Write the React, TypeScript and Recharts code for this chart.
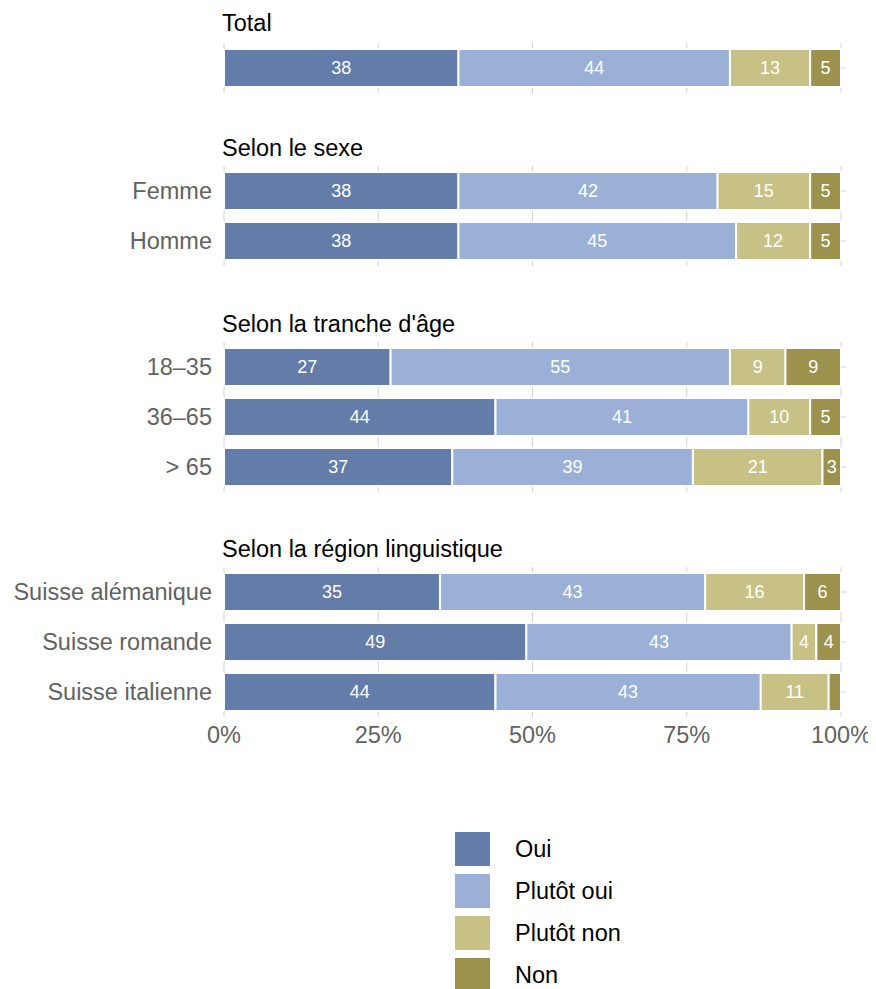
import { Bar, BarChart, CartesianGrid, LabelList, XAxis, YAxis } from "recharts";

// one row per bar, grouped into the four panels
const rowNames = [
  "Total",
  "Femme",
  "Homme",
  "18–35",
  "36–65",
  "> 65",
  "Suisse alémanique",
  "Suisse romande",
  "Suisse italienne",
];
const rowPanel = [0, 1, 1, 2, 2, 2, 3, 3, 3];
const panelTitles = [
  "Total",
  "Selon le sexe",
  "Selon la tranche d'âge",
  "Selon la région linguistique",
];

const oui = [38, 38, 38, 27, 44, 37, 35, 49, 44];
const plutotOui = [44, 42, 45, 55, 41, 39, 43, 43, 43];
const plutotNon = [13, 15, 12, 9, 10, 21, 16, 4, 11];
const non = [5, 5, 5, 9, 5, 3, 6, 4, 2];

const xTicks = [0, 25, 50, 75, 100];

const SERIES = [
  { key: "oui", name: "Oui", color: "#637CA8" },
  { key: "plutotOui", name: "Plutôt oui", color: "#9AB0D7" },
  { key: "plutotNon", name: "Plutôt non", color: "#C7C186" },
  { key: "non", name: "Non", color: "#9C924D" },
];

const FONT = '"Liberation Sans", Arial, Helvetica, sans-serif';
const AXIS_GREY = "#626262";
const GRID = "#d2d2d2";

// layout of the panels (relative to the page container)
const PANEL_TOP = [35, 158, 334, 559];
const TITLE_TOP = [2, 127, 303, 528];
const ROW_H = 50;
const CHART_W = 868;

const rows = rowNames.map((name, i) => ({
  name,
  panel: rowPanel[i],
  oui: oui[i],
  plutotOui: plutotOui[i],
  plutotNon: plutotNon[i],
  non: non[i],
}));

function Panel({ index }: { index: number }) {
  const data = rows.filter((r) => r.panel === index);
  const isLast = index === panelTitles.length - 1;
  const axisH = isLast ? 40 : 0;

  return (
    <>
      <div
        style={{
          position: "absolute",
          top: TITLE_TOP[index],
          left: 214,
          fontSize: 23.5,
          lineHeight: "26px",
          color: "#000",
        }}
      >
        {panelTitles[index]}
      </div>
      <div style={{ position: "absolute", top: PANEL_TOP[index], left: 0 }}>
        <BarChart
          width={CHART_W}
          height={data.length * ROW_H + axisH}
          data={data}
          layout="vertical"
          margin={{ top: 0, right: 27, bottom: 0, left: 0 }}
          barSize={38}
        >
          <CartesianGrid stroke={GRID} horizontal={false} />
          <XAxis
            type="number"
            domain={[0, 100]}
            ticks={xTicks}
            hide={!isLast}
            height={axisH}
            axisLine={false}
            tickLine={false}
            tickFormatter={(v) => `${v}%`}
            tick={{ fill: AXIS_GREY, fontSize: 23.5 }}
            tickMargin={3}
          />
          <YAxis
            yAxisId="left"
            type="category"
            dataKey="name"
            width={216}
            axisLine={false}
            tickLine={false}
            tickMargin={6}
            tick={{ fill: AXIS_GREY, fontSize: 23.5 }}
            tickFormatter={(v) => (index === 0 ? "" : v)}
          />
          <YAxis
            yAxisId="right"
            orientation="right"
            type="category"
            dataKey="name"
            width={8}
            axisLine={false}
            tickLine={{ stroke: GRID, strokeWidth: 1 }}
            tickSize={5}
            tickFormatter={() => ""}
            tick={{ fontSize: 1 }}
          />
          {SERIES.map((s) => (
            <Bar
              key={s.key}
              yAxisId="left"
              dataKey={s.key}
              name={s.name}
              stackId="a"
              fill={s.color}
              stroke="#ffffff"
              strokeWidth={2}
              isAnimationActive={false}
            >
              <LabelList
                dataKey={s.key}
                position="center"
                fill="#ffffff"
                fontSize={18}
                formatter={(v: number) => (v >= 3 ? v : "")}
              />
            </Bar>
          ))}
        </BarChart>
      </div>
    </>
  );
}

export default function App() {
  return (
    <div
      style={{
        position: "relative",
        width: 868,
        height: 981,
        fontFamily: FONT,
      }}
    >
      <style>{"html, body { overflow: hidden; } svg { overflow: visible; }"}</style>
      {panelTitles.map((_, i) => (
        <Panel key={i} index={i} />
      ))}
      {SERIES.map((s, i) => (
        <div
          key={s.key}
          style={{
            position: "absolute",
            top: 824 + i * 42,
            left: 447,
            display: "flex",
            alignItems: "center",
            height: 34,
          }}
        >
          <div style={{ width: 35, height: 34, background: s.color }} />
          <span style={{ marginLeft: 25, fontSize: 23.5, color: "#000" }}>{s.name}</span>
        </div>
      ))}
    </div>
  );
}
